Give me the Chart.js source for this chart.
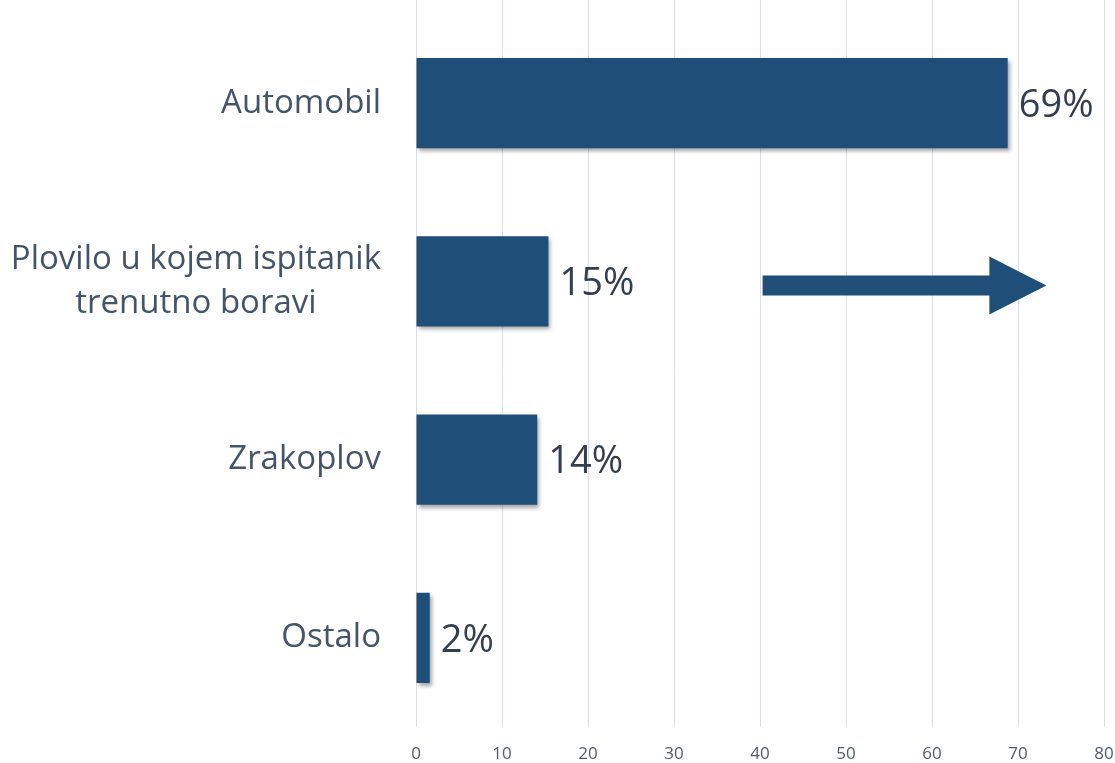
<!DOCTYPE html>
<html>
<head>
<meta charset="utf-8">
<script src="https://cdn.jsdelivr.net/npm/chart.js@4.4.1/dist/chart.umd.min.js"></script>
<style>
  html, body { margin: 0; padding: 0; background: #ffffff; }
  #wrap { width: 1115px; height: 763px; }
</style>
</head>
<body>
<div id="wrap"><canvas id="chart" width="1115" height="763"></canvas></div>
<script>
// data
const categories = ["Automobil", ["Plovilo u kojem ispitanik", "trenutno boravi"], "Zrakoplov", "Ostalo"];
const values = [68.8, 15.4, 14.1, 1.6];
const valueLabels = ["69%", "15%", "14%", "2%"];
const xTicks = [0, 10, 20, 30, 40, 50, 60, 70, 80];
// arrow annotation next to the second bar (x from / to, in axis units)
const arrowRange = [40.3, 73.3];
const arrowCategory = 1;

const barColor = "#1F4E79";
const catColor = "#44546A";
const catFont = "33px 'Open Sans'";
const catLineHeight = 44;

// bars get a soft shadow like in the original
const shadowPlugin = {
  id: "barShadow",
  beforeDatasetsDraw(chart) {
    const ctx = chart.ctx;
    ctx.save();
    ctx.shadowColor = "rgba(0,0,0,0.35)";
    ctx.shadowBlur = 4;
    ctx.shadowOffsetX = 2;
    ctx.shadowOffsetY = 3;
  },
  afterDatasetsDraw(chart) {
    chart.ctx.restore();
  }
};

// value labels at bar ends, centred multi-line category labels, and the arrow
const labelPlugin = {
  id: "valueLabels",
  afterDraw(chart) {
    const ctx = chart.ctx;
    const meta = chart.getDatasetMeta(0);
    ctx.save();
    ctx.font = "38px 'Open Sans'";
    ctx.fillStyle = "#333F50";
    ctx.textAlign = "left";
    ctx.textBaseline = "middle";
    meta.data.forEach((bar, i) => {
      ctx.fillText(valueLabels[i], bar.x + 11, bar.y + 3);
    });

    // multi-line category labels are centred on their widest line
    const ys = chart.scales.y;
    const rightEdge = ys.right - 35;
    ctx.font = catFont;
    ctx.fillStyle = catColor;
    ctx.textAlign = "center";
    categories.forEach((label, i) => {
      if (!Array.isArray(label)) return;
      const widest = Math.max(...label.map((l) => ctx.measureText(l).width));
      const cx = rightEdge - widest / 2;
      const cy = ys.getPixelForValue(i);
      label.forEach((line, k) => {
        const ly = cy + (k - (label.length - 1) / 2) * catLineHeight;
        ctx.fillText(line, cx, ly);
      });
    });

    // arrow
    const xs = chart.scales.x;
    const y = meta.data[arrowCategory].y + 4;
    const x0 = xs.getPixelForValue(arrowRange[0]);
    const x1 = xs.getPixelForValue(arrowRange[1]);
    const headLen = 57;
    const shaft = 10;
    const head = 29;
    ctx.fillStyle = barColor;
    ctx.beginPath();
    ctx.moveTo(x0, y - shaft);
    ctx.lineTo(x1 - headLen, y - shaft);
    ctx.lineTo(x1 - headLen, y - head);
    ctx.lineTo(x1, y);
    ctx.lineTo(x1 - headLen, y + head);
    ctx.lineTo(x1 - headLen, y + shaft);
    ctx.lineTo(x0, y + shaft);
    ctx.closePath();
    ctx.fill();
    ctx.restore();
  }
};

const ctx = document.getElementById("chart").getContext("2d");
const chart = new Chart(ctx, {
  type: "bar",
  data: {
    labels: categories,
    datasets: [
      {
        data: values,
        backgroundColor: barColor,
        borderWidth: 0,
        categoryPercentage: 1,
        barPercentage: 0.505
      }
    ]
  },
  options: {
    indexAxis: "y",
    responsive: false,
    animation: false,
    layout: { padding: 0 },
    plugins: {
      legend: { display: false },
      tooltip: { enabled: false }
    },
    scales: {
      x: {
        min: 0,
        max: 80,
        afterBuildTicks(scale) {
          scale.ticks = xTicks.map((v) => ({ value: v }));
        },
        afterFit(scale) {
          scale.height = 36;
          scale.paddingRight = 11;
        },
        grid: { color: "#D9DEE8", lineWidth: 1, drawTicks: false },
        border: { display: false },
        ticks: {
          padding: 17,
          color: "#505B6B",
          font: { family: "'Open Sans'", size: 17 }
        }
      },
      xTop: {
        position: "top",
        min: 0,
        max: 80,
        afterBuildTicks(scale) {
          scale.ticks = xTicks.map((v) => ({ value: v }));
        },
        grid: { color: "#D9DEE8", lineWidth: 1, drawOnChartArea: false, tickLength: 14 },
        border: { display: false },
        ticks: { display: false }
      },
      y: {
        grid: { display: false, drawTicks: false },
        border: { display: false },
        afterFit(scale) {
          scale.width = 416;
          scale.paddingTop = 0;
          scale.paddingBottom = 0;
        },
        ticks: {
          padding: 35,
          // multi-line labels are drawn centred by the plugin above
          color: (c) => (Array.isArray(categories[c.index]) ? "rgba(0,0,0,0)" : catColor),
          font: { family: "'Open Sans'", size: 33, lineHeight: 1.33 }
        }
      }
    }
  },
  plugins: [shadowPlugin, labelPlugin]
});
</script>
</body>
</html>
